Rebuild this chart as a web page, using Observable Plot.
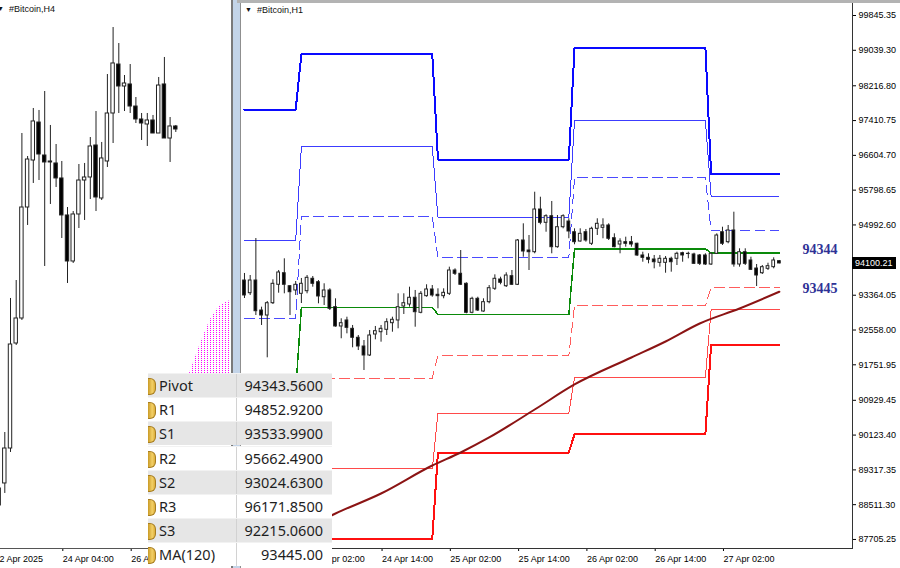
<!DOCTYPE html>
<html>
<head>
<meta charset="utf-8">
<script src="https://cdn.jsdelivr.net/npm/d3@7"></script>
<script src="https://cdn.jsdelivr.net/npm/@observablehq/plot@0.6"></script>
<style>
html,body{margin:0;padding:0;background:#fff;}
#root{position:relative;width:900px;height:568px;overflow:hidden;background:#fff;font-family:"Liberation Sans",Arial,sans-serif;color:#000;}
.abs{position:absolute;}
.title{font-size:9px;white-space:nowrap;line-height:12px;color:#111;}
.tri{font-size:7px;display:inline-block;margin-right:5px;vertical-align:1px;}
.row{position:absolute;left:148px;width:184px;height:24px;display:flex;align-items:stretch;font-family:"Noto Sans","Open Sans",sans-serif;font-size:14.5px;color:#1e1e1e;box-sizing:border-box;border-top:1px solid #f2f2f2;}
.row.g{background:#e6e6e6;}
.row.w{background:#fff;}
.icon{width:7px;height:15px;margin-top:4px;background:linear-gradient(90deg,#c99a25,#f3d067 60%,#dcae3a);border:1px solid #a77d20;border-left:none;border-radius:0 6px 6px 0;flex:none;}
.lab{width:77px;padding-left:3px;line-height:22px;flex:none;}
.val{flex:1;text-align:right;padding-right:9px;line-height:22px;border-left:1px solid #d2d2d2;}
</style>
</head>
<body>
<div id="root"></div>
<script>
// ---------- H4 (left) candles: bars every 4h, bar 11 = 24 Apr 04:00 ----------
const h4Open  = [88288,88369,88935,90635,91040,92837,93598,94213,93679,93582,93550,93307,92708,91963,92724,93274,93323,93841,92983,93582,94359,95152,94796,94829,94472,94262,94181,94246,94035,94829,93954,94149];
const h4High  = [88369,89194,91364,91655,94035,93663,94440,94408,94715,94165,93857,93582,92837,92772,93533,93550,93970,94391,93890,94990,95751,95492,94974,95152,94618,94359,94359,94327,94942,95266,94294,94165];
const h4Low   = [87932,88207,88871,90603,91008,92546,93226,93274,91882,92886,93161,92335,91607,91931,92497,92627,92967,92772,92950,93485,93873,94359,94391,94359,94197,93922,93825,94035,94035,93954,93566,94052];
const h4Close = [88012,88935,90619,91040,92837,93614,94230,93695,93566,93566,93307,92708,91963,92724,93274,93323,93825,92999,93631,94359,95169,94796,94845,94472,94262,94197,94246,94035,94812,93954,94149,94100];
const h4LabelBars = [-1, 11, 23];
const h4Labels = ["22 Apr 2025", "24 Apr 04:00", "26 Apr 04:00"];
// Ichimoku cloud (shifted forward)
const cloudBars   = [33, 34, 35, 36, 37, 38, 39, 40, 41];
const cloudTop    = [90050, 90300, 90550, 90790, 91010, 91160, 91270, 91310, 91340];
const cloudBottom = [89300, 89300, 89300, 89300, 89300, 89300, 89300, 89300, 89300];

// ---------- H1 (right) candles: bar 0 = 23 Apr 14:00 ----------
const h1Open  = [93705,93411,93705,93010,92894,93179,93606,93874,93573,93474,93397,93457,93745,93666,93318,93474,93087,92640,92779,92586,92378,92176,91968,92454,92507,92563,92716,92779,93103,93149,93305,92957,93342,93497,93374,93342,93397,93937,93861,93629,92957,93281,92987,93203,93513,93729,93573,93805,93606,94632,94400,94361,95350,95042,95195,94477,94940,95072,94824,94609,94824,94556,94903,94926,94980,94685,94539,94593,94593,94556,94285,94231,94192,94115,94115,94208,94208,94338,94324,94308,94285,94285,94076,94324,94824,94593,94864,94076,94361,94169,93983,93874,93976,94014,94153];
const h1High  = [93868,93821,94678,93087,93219,93722,93937,94208,93589,93682,93752,93821,93798,93705,93629,93513,93281,92818,92855,92663,92431,92315,92547,92640,92663,92818,92855,93397,93397,93550,93474,93450,93606,93589,93513,93513,94014,93976,94400,93652,93318,93318,93281,93589,93837,93782,93884,93937,94655,95019,94748,95751,95635,95228,95536,95211,95228,95135,94903,94903,94887,94940,95135,95135,95019,94787,94672,94709,94725,94570,94361,94324,94285,94285,94261,94245,94361,94361,94361,94338,94308,94324,94338,94787,94940,94980,95288,94440,94440,94245,94076,94053,94106,94231,94169];
const h1Low   = [93288,93358,92894,92663,91914,93149,93411,93397,92894,93358,93172,93397,93550,93165,93126,93010,92623,92355,92470,92146,92083,91620,91944,92331,92276,92431,92507,92586,92918,93087,92623,92934,93318,93318,93050,93281,93358,93821,93589,92934,92934,92987,92971,93165,93474,93606,93543,93589,93589,94245,93937,94324,94996,94824,94324,94454,94903,94672,94533,94593,94593,94516,94748,94672,94632,94463,94324,94477,94477,94261,94129,94092,93976,94014,93874,93898,94053,94129,94208,94076,94053,94053,94053,94308,94516,94556,94014,94014,94053,93937,93566,93844,93937,93976,94092];
const h1Close = [93358,93705,92994,92894,93179,93629,93891,93606,93434,93606,93629,93768,93629,93335,93474,93050,92640,92716,92609,92378,92176,91968,92431,92531,92586,92739,92795,93087,93179,93305,92971,93397,93497,93358,93342,93420,93937,93861,93606,92957,93281,93010,93203,93527,93745,93652,93821,93606,94632,94377,94361,95350,95042,95195,94477,94940,95195,94841,94593,94787,94632,94903,95019,94980,94672,94477,94609,94556,94539,94285,94231,94185,94129,94208,94208,94129,94324,94285,94319,94092,94092,94076,94324,94748,94556,94864,94076,94361,94092,93953,93821,94014,94037,94169,94100.21];
const h1LabelBars = [12, 24, 36, 48, 60, 72, 84];
const h1Labels = ["24 Apr 02:00", "24 Apr 14:00", "25 Apr 02:00", "25 Apr 14:00", "26 Apr 02:00", "26 Apr 14:00", "27 Apr 02:00"];
const priceTicks = [99845.35, 99039.30, 98216.80, 97410.75, 96604.70, 95798.65, 94992.60, 93364.05, 92558.00, 91751.95, 90929.45, 90123.40, 89317.35, 88511.30, 87705.25];

// Daily pivot levels (first H1 bar of each day)
const dayStart = [0, 10, 34, 58, 82];
const r3Levels = [97667, 98953, 96508, 99100, 96171.85];
const r2Levels = [94632, 96806, 95170, 97413, 95662.49];
const r1Levels = [92825, 95186, 94238, 96092, 94852.92];
const pivotLevels = [91150, 93080, 92918, 94440, 94343.56];
const s1Levels = [89700, 91444, 91968, 93126, 93533.99];
const s2Levels = [88900, 89338, 90633, 91458, 93024.63];
const s3Levels = [87800, 87716, 89720, 90146, 92215.06];

// MA(120) read points
const maBars = [14, 16, 24, 33, 38, 43, 51, 58, 68, 74, 80, 87, 94];
const maValues = [88180, 88307, 88770, 89419, 89720, 90068, 90716, 91296, 91921, 92292, 92709, 93057, 93445];

// Table
const tableNames = ["Pivot", "R1", "S1", "R2", "S2", "R3", "S3", "MA(120)"];

// ---------------------------------------------------------------
const root = document.getElementById("root");
function el(tag, cls, css, html) {
  const e = document.createElement(tag);
  if (cls) e.className = cls;
  if (css) e.style.cssText = css;
  if (html != null) e.innerHTML = html;
  root.appendChild(e);
  return e;
}
const font = {fontFamily: "Liberation Sans, Arial, sans-serif", fontSize: "9px", background: "transparent", overflow: "visible"};

// Left H4 chart
const h4 = h4Close.map((c, i) => ({i, o: h4Open[i], h: h4High[i], l: h4Low[i], c}));
const cloud = cloudBars.map((i, k) => ({i, hi: cloudTop[k], lo: cloudBottom[k]}));
const leftDiv = el("div", "abs", "left:0;top:0;width:232px;height:568px;overflow:hidden;");
const leftChart = Plot.plot({
  width: 232, height: 568,
  marginLeft: 0, marginRight: 0, marginTop: 0, marginBottom: 20,
  style: font,
  x: {domain: [0.2456, 40.947], label: null},
  y: {domain: [87316, 96188.5], label: null, axis: null},
  marks: [
    Plot.areaY(cloud, {x: "i", y1: "lo", y2: "hi", fill: "url(#ichi)"}),
    Plot.ruleX(h4, {x: "i", y1: "l", y2: "h", stroke: "#222", strokeWidth: 1}),
    Plot.rect(h4, {x1: d => d.i - 0.3, x2: d => d.i + 0.3, y1: "o", y2: "c",
      fill: d => d.c >= d.o ? "#ffffff" : "#000000", stroke: "#222", strokeWidth: 1}),
    Plot.axisX({ticks: h4LabelBars, tickFormat: d => h4Labels[h4LabelBars.indexOf(d)],
      anchor: "bottom", tickSize: 3, tickPadding: 4, textAnchor: "start", dx: 1, label: null}),
    Plot.frame({anchor: "bottom", stroke: "#555"})
  ]
});
leftDiv.appendChild(leftChart);
{
  const defs = d3.select(leftChart).insert("defs", ":first-child");
  const pat = defs.append("pattern").attr("id", "ichi").attr("width", 3).attr("height", 2)
    .attr("patternUnits", "userSpaceOnUse");
  pat.append("rect").attr("width", 1).attr("height", 1).attr("fill", "#ff00ff");
}
el("div", "abs title", "left:-3px;top:3px;", '<span class="tri">&#9660;</span>#Bitcoin,H4');

// Window frame between panels
el("div", "abs", "left:231px;top:0;width:2px;height:568px;background:#7a7a7a;");
el("div", "abs", "left:233px;top:0;width:7px;height:568px;background:#c3d4e8;");
el("div", "abs", "left:240px;top:0;width:1px;height:568px;background:#8f8f8f;");
el("div", "abs", "left:237px;top:0;width:663px;height:3px;background:#b3b3b3;");

// Right H1 chart
const bars = h1Close.map((c, j) => ({j, o: h1Open[j], h: h1High[j], l: h1Low[j], c}));
const dayOf = j => d3.bisectRight(dayStart, j) - 1;
const levelDefs = [
  {vals: s3Levels, stroke: "#ff1010", w: 2},
  {vals: s2Levels, stroke: "#ff4a4a", w: 1},
  {vals: s1Levels, stroke: "#ff5c5c", w: 1, dash: "10,5"},
  {vals: r3Levels, stroke: "#0a0aff", w: 2},
  {vals: r2Levels, stroke: "#3c3cff", w: 1},
  {vals: r1Levels, stroke: "#4a4aff", w: 1, dash: "10,5"},
  {vals: pivotLevels, stroke: "#0a8a0a", w: 1.5}
];
const levelMarks = levelDefs.map(L => Plot.line(
  bars.map(b => ({j: b.j, v: L.vals[dayOf(b.j)]})),
  {x: "j", y: "v", stroke: L.stroke, strokeWidth: L.w, strokeDasharray: L.dash, shapeRendering: "crispEdges"}));
const ma = maBars.map((j, k) => ({j, v: maValues[k]}));
const lastPivot = pivotLevels[pivotLevels.length - 1];
const lastMA = maValues[maValues.length - 1];

const rightDiv = el("div", "abs", "left:240px;top:0;width:660px;height:568px;");
const rightChart = Plot.plot({
  width: 660, height: 568,
  marginLeft: 0, marginRight: 48, marginTop: 3, marginBottom: 20,
  style: font,
  x: {domain: [-0.70, 106.85], label: null},
  y: {domain: [87495.7, 100123.4], label: null},
  marks: [
    ...levelMarks,
    Plot.line(ma, {x: "j", y: "v", stroke: "#8b1414", strokeWidth: 2, curve: "monotone-x"}),
    Plot.ruleX(bars, {x: "j", y1: "l", y2: "h", stroke: "#222", strokeWidth: 1}),
    Plot.rect(bars, {x1: d => d.j - 0.24, x2: d => d.j + 0.24, y1: "o", y2: "c",
      fill: d => d.c >= d.o ? "#ffffff" : "#000000", stroke: "#222", strokeWidth: 1}),
    Plot.text([lastPivot, lastMA], {y: d => d, text: d => d3.format(".0f")(d), frameAnchor: "right",
      textAnchor: "end", dx: -15, dy: -3, fill: "#2e3296", fontFamily: "Liberation Serif, Times New Roman, serif",
      fontWeight: "bold", fontSize: 14}),
    Plot.axisY({ticks: priceTicks, tickFormat: d => d.toFixed(2), anchor: "right", tickSize: 3, tickPadding: 3, label: null}),
    Plot.axisX({ticks: h1LabelBars, tickFormat: d => h1Labels[h1LabelBars.indexOf(d)],
      anchor: "bottom", tickSize: 3, tickPadding: 4, textAnchor: "start", dx: 1, label: null}),
    Plot.frame({anchor: "right", stroke: "#333"}),
    Plot.frame({anchor: "bottom", stroke: "#333"})
  ]
});
rightDiv.appendChild(rightChart);
el("div", "abs title", "left:245px;top:4px;", '<span class="tri">&#9660;</span>#Bitcoin,H1');

// Price tag at last close
const lastClose = h1Close[h1Close.length - 1];
const yTag = rightChart.scale("y").apply(lastClose);
el("div", "abs", `left:852px;top:${yTag - 6}px;background:#000;color:#fff;font-size:9px;line-height:12px;height:12px;width:41px;padding-left:3px;`,
  lastClose.toFixed(2));

// Levels table
const tableValues = [lastPivot, r1Levels[4], s1Levels[4], r2Levels[4], s2Levels[4], r3Levels[4], s3Levels[4], lastMA];
tableNames.forEach((name, k) => {
  const txt = k < 7 ? tableValues[k].toFixed(4) : tableValues[k].toFixed(2);
  el("div", "row " + (k % 2 === 0 ? "g" : "w"), `top:${373 + k * 24.2}px;`,
    `<span class="icon"></span><span class="lab">${name}</span><span class="val">${txt}</span>`);
});
</script>
</body>
</html>
